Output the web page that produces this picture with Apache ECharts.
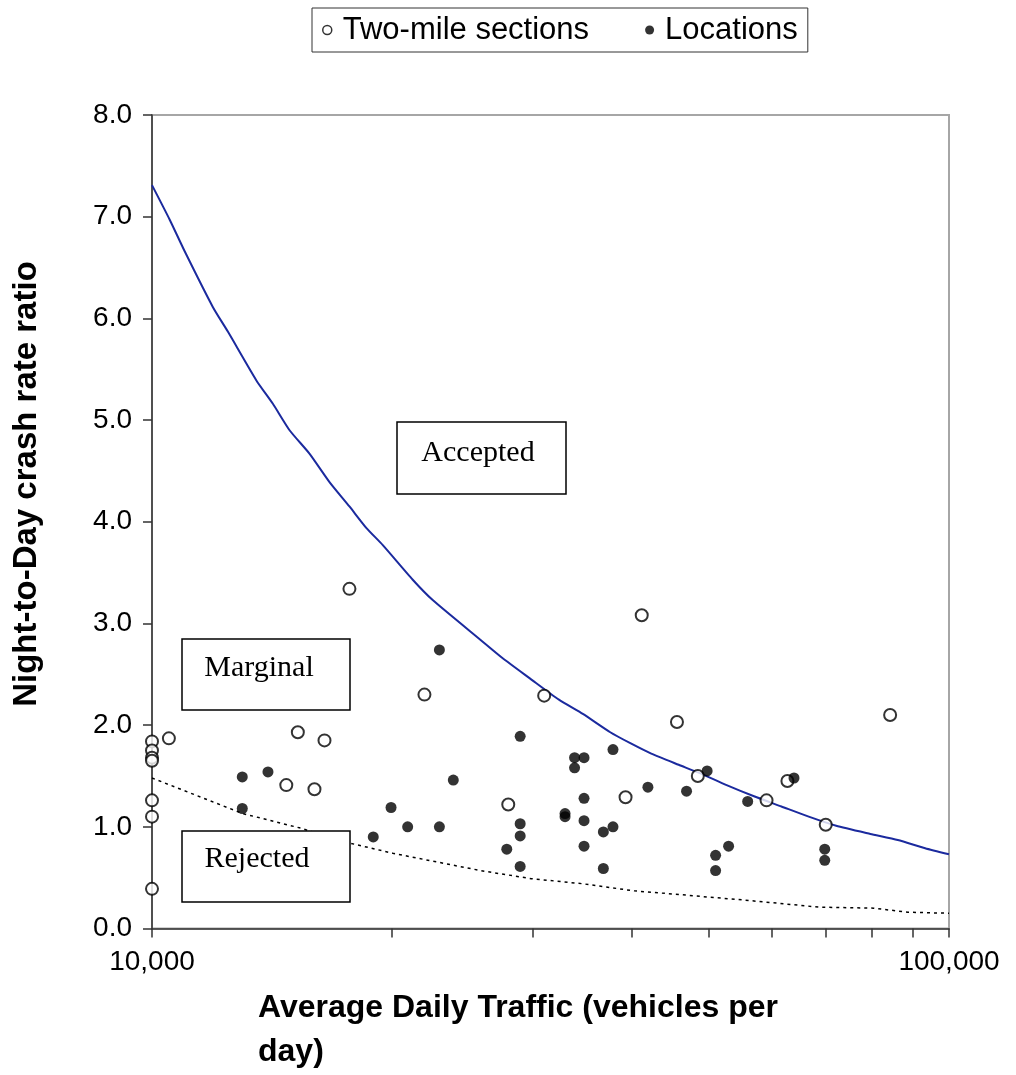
<!DOCTYPE html>
<html>
<head>
<meta charset="utf-8">
<title>Night-to-Day crash rate ratio</title>
<script src="https://cdn.jsdelivr.net/npm/echarts@6/dist/echarts.min.js"></script>
<style>
  html, body { margin: 0; padding: 0; background: #fff; }
  #chart { width: 1016px; height: 1075px; }
</style>
</head>
<body>
<div id="chart"></div>
<script>
// two-mile sections (open circles)
const sectionADT = [10000, 10000, 10000, 10000, 10000, 10000, 10000, 10500, 14740, 15240, 15990, 16460,
  17690, 21970, 27990, 31050, 39280, 41160, 45570, 48400, 59030, 62700, 70040, 84360];
const sectionRatio = [1.84, 1.75, 1.68, 1.65, 1.26, 1.10, 0.39, 1.87, 1.41, 1.93, 1.37, 1.85,
  3.34, 2.30, 1.22, 2.29, 1.29, 3.08, 2.03, 1.50, 1.26, 1.45, 1.02, 2.10];

// locations (filled dots)
const locationADT = [12980, 13980, 12980, 18950, 19950, 20930, 22940, 22940, 23880, 27870, 28970, 28970,
  28970, 28970, 32980, 32980, 33900, 33900, 34840, 34840, 34840, 34840, 36840, 36840, 37880, 37880,
  41900, 46850, 49720, 50950, 50950, 52900, 55900, 63900, 69840, 69840];
const locationRatio = [1.49, 1.54, 1.18, 0.90, 1.19, 1.00, 1.00, 2.74, 1.46, 0.78, 1.89, 1.03,
  0.91, 0.61, 1.13, 1.10, 1.68, 1.58, 1.68, 1.28, 1.06, 0.81, 0.95, 0.59, 1.76, 1.00,
  1.39, 1.35, 1.55, 0.72, 0.57, 0.81, 1.25, 1.48, 0.78, 0.67];

// upper threshold (blue line)
const upperADT = [10000, 10525, 10990, 11925, 12450, 13520, 14180, 14880, 15760, 16700, 17690, 18570,
  19480, 21240, 22500, 25820, 27520, 29790, 32400, 34720, 37580, 39880, 42310, 45800, 48590, 52600,
  56930, 61620, 66680, 72180, 79680, 86250, 93340, 100000];
const upperRatio = [7.31, 6.97, 6.66, 6.11, 5.87, 5.39, 5.16, 4.90, 4.67, 4.39, 4.15, 3.94,
  3.77, 3.43, 3.23, 2.84, 2.66, 2.46, 2.25, 2.11, 1.93, 1.82, 1.72, 1.61, 1.53, 1.41,
  1.30, 1.20, 1.10, 1.01, 0.93, 0.87, 0.79, 0.73];

// lower threshold (dotted line)
const lowerADT = [10000, 13000, 15310, 17700, 20050, 25820, 27280, 29920, 34720, 40270, 44890, 55270,
  68710, 80450, 88800, 100000];
const lowerRatio = [1.48, 1.13, 0.99, 0.84, 0.74, 0.57, 0.54, 0.49, 0.44, 0.37, 0.34, 0.28,
  0.21, 0.20, 0.16, 0.15];

const xTicks = [10000, 20000, 30000, 40000, 50000, 60000, 70000, 80000, 90000, 100000];
const xLabels = [10000, 100000];

const zip = (xs, ys) => xs.map((x, i) => [x, ys[i]]);
const fmtThousands = v => String(Math.round(v)).replace(/\B(?=(\d{3})+(?!\d))/g, ',');

const sansFont = "'Liberation Sans', Arial, sans-serif";
const serifFont = "'Liberation Serif', 'Times New Roman', serif";

// annotation box helper
function noteBox(x, y, w, h, label, tx, ty) {
  return {
    type: 'group',
    children: [
      { type: 'rect', shape: { x: x, y: y, width: w, height: h },
        style: { fill: '#fff', stroke: '#000', lineWidth: 1.5 }, z: 10 },
      { type: 'text', x: tx, y: ty, z: 11,
        style: { text: label, font: '30px ' + serifFont, fill: '#000',
          textAlign: 'center', textVerticalAlign: 'middle' } }
    ]
  };
}

const chart = echarts.init(document.getElementById('chart'));

const option = {
  backgroundColor: '#fff',
  animation: false,
  textStyle: { fontFamily: sansFont },
  legend: {
    left: 312,
    top: 8,
    orient: 'horizontal',
    padding: [4, 10],
    itemGap: 56,
    itemWidth: 9,
    itemHeight: 9,
    borderColor: '#333',
    borderWidth: 1,
    textStyle: { fontSize: 31, color: '#000', fontFamily: sansFont, padding: [0, 0, 0, 6], lineHeight: 36 },
    data: [
      { name: 'Two-mile sections', icon: 'circle', itemStyle: { color: '#fff', borderColor: '#000', borderWidth: 1.5 } },
      { name: 'Locations', icon: 'circle', itemStyle: { color: '#000', borderWidth: 0 } }
    ]
  },
  grid: {
    left: 152,
    right: 67,
    top: 115,
    bottom: 146.5,
    show: true,
    borderColor: '#a6a6a6',
    borderWidth: 2,
    backgroundColor: '#fff'
  },
  xAxis: {
    type: 'log',
    logBase: 10,
    min: 10000,
    max: 100000,
    axisLine: { show: true, lineStyle: { color: '#333', width: 1.5 } },
    axisTick: { show: true, length: 9, customValues: xTicks, lineStyle: { color: '#333', width: 1.5 } },
    axisLabel: { customValues: xLabels, formatter: v => fmtThousands(v), fontSize: 28, margin: 20, color: '#000' },
    splitLine: { show: false },
    minorTick: { show: false }
  },
  yAxis: {
    type: 'value',
    min: 0,
    max: 8,
    interval: 1,
    axisLine: { show: true, lineStyle: { color: '#333', width: 1.5 } },
    axisTick: { show: true, length: 9, lineStyle: { color: '#333', width: 1.5 } },
    axisLabel: { formatter: v => v.toFixed(1), fontSize: 28, margin: 20, color: '#000' },
    splitLine: { show: false }
  },
  graphic: [
    {
      type: 'text', x: 27, y: 484, rotation: Math.PI / 2,
      style: { text: 'Night-to-Day crash rate ratio', font: 'bold 33px ' + sansFont, fill: '#000',
        textAlign: 'center', textVerticalAlign: 'middle' }
    },
    {
      type: 'text', left: 258, top: 986,
      style: { text: 'Average Daily Traffic (vehicles per\nday)', font: 'bold 32px ' + sansFont, fill: '#000',
        lineHeight: 44 }
    },
    noteBox(397, 422, 169, 72, 'Accepted', 478, 453),
    noteBox(182, 639, 168, 71, 'Marginal', 259, 668),
    noteBox(182, 831, 168, 71, 'Rejected', 257, 859)
  ],
  series: [
    {
      name: 'Accepted threshold',
      type: 'line',
      data: zip(upperADT, upperRatio),
      symbol: 'none',
      smooth: 0.2,
      lineStyle: { color: '#1b2a9e', width: 2 },
      z: 2
    },
    {
      name: 'Rejected threshold',
      type: 'line',
      data: zip(lowerADT, lowerRatio),
      symbol: 'none',
      lineStyle: { color: '#000', width: 1.5, type: [3, 4] },
      z: 2
    },
    {
      name: 'Two-mile sections',
      type: 'scatter',
      data: zip(sectionADT, sectionRatio),
      symbol: 'circle',
      symbolSize: 12,
      itemStyle: { color: '#fff', borderColor: '#000', borderWidth: 2 },
      z: 4
    },
    {
      name: 'Locations',
      type: 'scatter',
      data: zip(locationADT, locationRatio),
      symbol: 'circle',
      symbolSize: 11,
      itemStyle: { color: '#000' },
      z: 5
    }
  ]
};

chart.setOption(option);
window.addEventListener('resize', () => chart.resize());
</script>
</body>
</html>
